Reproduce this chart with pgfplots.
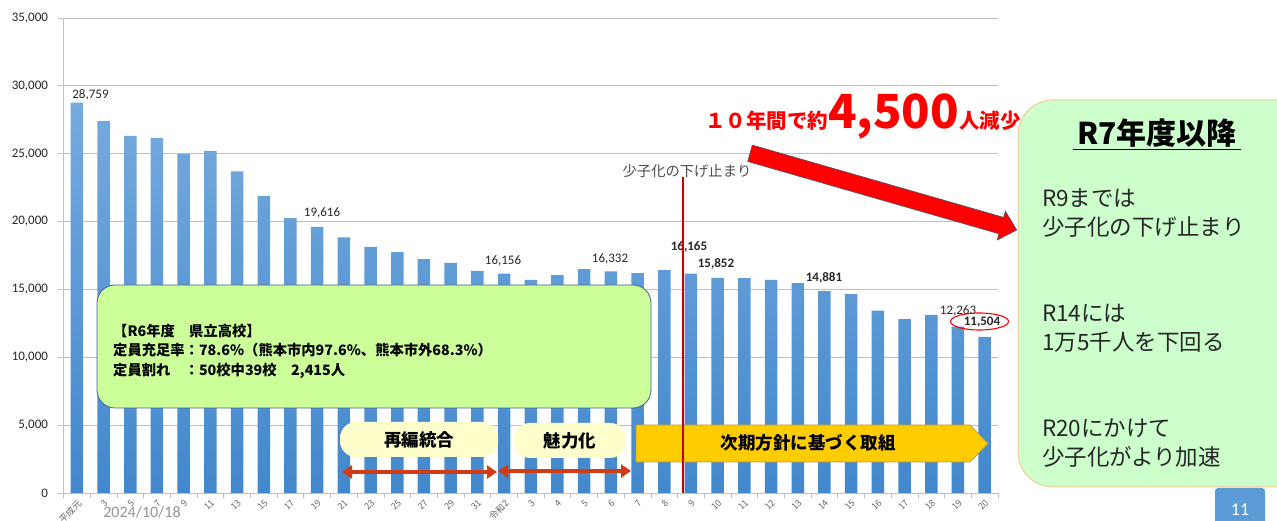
\documentclass[border=0pt]{standalone}
\usepackage{pgfplots}
\pgfplotsset{compat=1.18}
\usetikzlibrary{arrows.meta}
\usepackage{fontspec}
\setmainfont{Carlito}
\newfontfamily\jp{Noto Sans CJK JP}
\newcommand\fs[1]{\fontsize{#1}{#1}\selectfont}
\definecolor{barTop}{RGB}{118,170,222}
\definecolor{barBot}{RGB}{66,136,204}
\definecolor{gridc}{RGB}{191,191,191}
\definecolor{boxgreen}{RGB}{204,255,153}
\definecolor{boxedge}{RGB}{65,95,145}
\definecolor{pill}{RGB}{255,255,204}
\definecolor{gold}{RGB}{255,204,0}
\definecolor{goldedge}{RGB}{190,150,60}
\definecolor{arrowred}{RGB}{210,60,20}
\definecolor{rgreen}{RGB}{204,255,204}
\definecolor{redge}{RGB}{250,200,150}
\definecolor{numblue}{RGB}{91,155,213}
\definecolor{vline}{RGB}{200,0,0}
\definecolor{arredge}{RGB}{68,84,120}
\begin{document}
\begin{tikzpicture}
\path[use as bounding box] (0,0) rectangle (1277pt,521pt);
\clip (0,0) rectangle (1277pt,521pt);
\begin{axis}[
  at={(63.5pt,28pt)}, anchor=south west, scale only axis,
  width=934.5pt, height=475pt,
  xmin=-0.5, xmax=34.5, ymin=0, ymax=35000,
  axis x line=bottom, axis y line=left,
  axis line style={-, draw=gridc, line width=0.8pt},
  ymajorgrids, grid style={gridc, line width=0.8pt},
  scaled y ticks=false,
  ytick={0,5000,...,35000},
  yticklabels={0,{5,000},{10,000},{15,000},{20,000},{25,000},{30,000},{35,000}},
  yticklabel style={font=\fs{13}, text=black!85, xshift=-7pt},
  tick align=outside, major tick length=5pt, minor tick length=5pt,
  ytick style={draw=gridc, line width=0.8pt},
  xtick={0,...,34},
  xticklabels={平成元,3,5,7,9,11,13,15,17,19,21,23,25,27,29,31,令和2,3,4,5,6,7,8,9,10,11,12,13,14,15,16,17,18,19,20},
  xticklabel style={rotate=45, anchor=north east, inner sep=0.5pt, font=\jp\fs{9}, text=black!60},
  major x tick style={draw=none},
  minor xtick={-0.5,0.5,...,34.5},
  minor x tick style={draw=gridc, line width=0.8pt},
]
\addplot[ybar, bar width=12.5pt, draw=none, top color=barTop, bottom color=barBot] coordinates {
(0,28759) (1,27410) (2,26310) (3,26160) (4,24980) (5,25200) (6,23700) (7,21880)
(8,20260) (9,19616) (10,18840) (11,18130) (12,17750) (13,17240) (14,16950) (15,16360)
(16,16156) (17,15700) (18,16060) (19,16500) (20,16332) (21,16200) (22,16430) (23,16165)
(24,15852) (25,15830) (26,15700) (27,15470) (28,14881) (29,14660) (30,13430) (31,12820)
(32,13120) (33,12263) (34,11504)};
\end{axis}
\begin{scope}[shift={(0pt,521pt)}, x=1pt, y=-1pt]
% data labels
\begin{scope}[every node/.style={font=\fs{13}, text=black!85, inner sep=0pt}]
\node at (90.5,95) {28,759};
\node at (322,213) {19,616};
\node at (503,261) {16,156};
\node at (610,259) {16,332};
\node[font=\fs{13}\bfseries] at (689,247) {16,165};
\node[font=\fs{13}\bfseries] at (716,264) {15,852};
\node[font=\fs{13}\bfseries] at (824,278) {14,881};
\node at (958,311) {12,263};
\node[font=\fs{13}\bfseries] at (982,322) {11,504};
\end{scope}
\draw[red, line width=1.1pt] (979.5,321.5) ellipse [x radius=29, y radius=8.5];
% left box
\draw[fill=boxgreen, draw=boxedge, line width=0.8pt, rounded corners=18pt] (97,285) rectangle (651,408);
\node[anchor=west, align=left, inner sep=0pt, font=\jp\bfseries\fontsize{14.3}{19.5}\selectfont] at (113,351)
 {【R6年度　県立高校】\\定員充足率：78.6\%（熊本市内97.6\%、熊本市外68.3\%）\\定員割れ　：50校中39校　2,415人};
% pills
\fill[pill, rounded corners=16pt] (340,422) rectangle (498,457);
\fill[pill, rounded corners=16pt] (514,423) rectangle (626,458);
\node[font=\jp\bfseries\fs{17.5}] at (419,439.5) {再編統合};
\node[font=\jp\bfseries\fs{17.5}] at (570,440.5) {魅力化};
\draw[arrowred, line width=3.2pt, {Triangle[length=10pt,width=13pt]}-{Triangle[length=10pt,width=13pt]}] (342,472) -- (497,472);
\draw[arrowred, line width=3.2pt, {Triangle[length=10pt,width=13pt]}-{Triangle[length=10pt,width=13pt]}] (498,471) -- (631,471);
% pentagon
\draw[fill=gold, draw=goldedge, line width=0.7pt] (636,425) -- (970,425) -- (988,443.5) -- (970,462) -- (636,462) -- cycle;
\node[font=\jp\bfseries\fs{17.5}] at (808,443) {次期方針に基づく取組};
% vertical red line
\draw[vline, line width=2.7pt] (683,177) -- (683,493);
\node[font=\jp\fs{14.3}, text=black!70] at (687,171) {少子化の下げ止まり};
% red big text
\node[anchor=base west, inner sep=0pt, text=red, font=\jp\bfseries] at (705,129)
 {\fs{20.5}１０年間で約\fs{47}4,500\fs{20.5}人減少};
% red arrow
\draw[fill=red, draw=arredge, line width=0.6pt] (752.3,145.1) -- (1003.6,217.4) -- (1005.4,211.2) -- (1016.7,230) -- (997.2,240) -- (999,233.8) -- (747.7,161.5) -- cycle;
% right box
\draw[fill=rgreen, draw=redge, line width=1pt, rounded corners=35pt] (1018,100) rectangle (1320,487);
\node[font=\jp\bfseries\fs{30}] at (1157,133) {R7年度以降};
\draw[black, line width=1.6pt] (1073,149.5) -- (1241,149.5);
\begin{scope}[every node/.style={anchor=west, inner sep=0pt, font=\jp\fs{22.5}, text=black!85}]
\node at (1042,198) {R9までは};
\node at (1042,227) {少子化の下げ止まり};
\node at (1042,313) {R14には};
\node at (1042,342) {1万5千人を下回る};
\node at (1042,428) {R20にかけて};
\node at (1042,457) {少子化がより加速};
\end{scope}
% page number box
\fill[numblue, rounded corners=3pt] (1215,488) rectangle (1265,530);
\node[font=\fs{18}, text=white] at (1240,510) {11};
% date
\node[font=\fs{16}, text=black!42] at (142,512) {2024/10/18};
\end{scope}
\end{tikzpicture}
\end{document}
